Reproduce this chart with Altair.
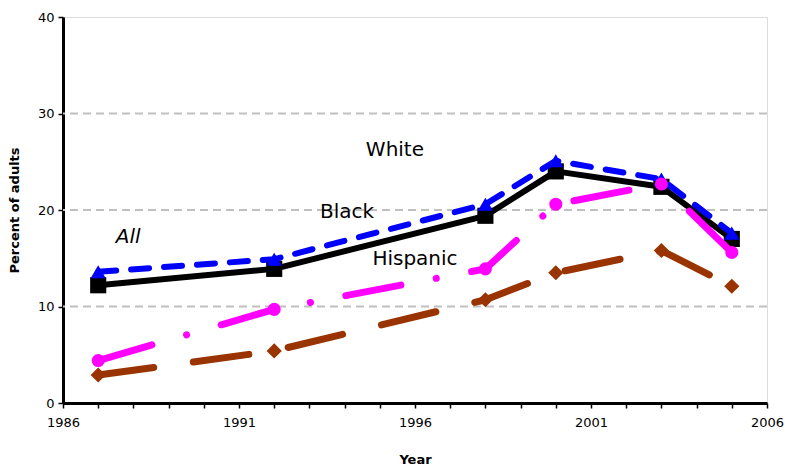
import altair as alt
import pandas as pd

years = [1987, 1992, 1998, 2000, 2003, 2005]
all_vals = [12.2, 13.9, 19.4, 24.0, 22.4, 17.0]
white_vals = [13.6, 14.9, 20.6, 25.1, 23.2, 17.6]
hispanic_vals = [4.4, 9.7, 13.9, 20.6, 22.7, 15.6]
black_vals = [2.9, 5.4, 10.7, 13.5, 15.8, 12.1]

label_text = ["All", "Black", "White", "Hispanic"]
label_x = [1987.85, 1994.07, 1995.43, 1996.0]
label_y = [17.2, 19.8, 26.2, 14.9]
label_style = ["italic", "normal", "normal", "normal"]

FONT = "DejaVu Sans"

series = [
    ("All", all_vals, "#000000", None, "square", 260, 6),
    ("White", white_vals, "#0000FF", [18, 15], "triangle-up", 230, 6),
    ("Hispanic", hispanic_vals, "#FF00FF", [56, 36, 0.1, 36], "circle", 170, 7),
    ("Black", black_vals, "#993300", [56, 40], "diamond", 230, 7),
]

xscale = alt.Scale(domain=[1986, 2006], nice=False, zero=False)
yscale = alt.Scale(domain=[0, 40], nice=False)

xaxis = alt.Axis(
    title="Year", values=list(range(1986, 2007)), format="d",
    labelExpr="(datum.value - 1986) % 5 == 0 ? datum.label : ''",
    labelOverlap=False, labelSeparation=0, labelFlush=False,
    grid=False, tickSize=5, tickColor="black", domainColor="black",
    domainWidth=3, tickWidth=1.5, labelFont=FONT, labelFontSize=13,
    labelColor="black", labelPadding=8, titleFont=FONT, titleFontSize=13,
    titleFontWeight="bold", titleColor="black", titlePadding=24,
)
yaxis = alt.Axis(
    title="Percent of adults", values=[0, 10, 20, 30, 40],
    grid=False, tickSize=5, tickColor="black", domainColor="black",
    domainWidth=3, tickWidth=1.5, labelFont=FONT, labelFontSize=13,
    labelColor="black", labelPadding=4, labelFlush=False,
    titleFont=FONT, titleFontSize=13,
    titleFontWeight="bold", titleColor="black", titlePadding=16,
)

grid_df = pd.DataFrame({"v": [10, 20, 30]})
grid = alt.Chart(grid_df).mark_rule(color="#C0C0C0", strokeWidth=2, strokeDash=[8, 5]).encode(
    y=alt.Y("v:Q", scale=yscale, axis=yaxis)
)

layers = [grid]
for name, vals, color, dash, shape, size, sw in series:
    df = pd.DataFrame({"year": years, "value": vals})
    line_kwargs = dict(color=color, strokeWidth=sw, strokeCap="round", strokeJoin="round")
    if dash is not None:
        line_kwargs["strokeDash"] = dash
    line = alt.Chart(df).mark_line(**line_kwargs).encode(
        x=alt.X("year:Q", scale=xscale, axis=xaxis),
        y=alt.Y("value:Q", scale=yscale, axis=yaxis),
    )
    pts = alt.Chart(df).mark_point(shape=shape, size=size, filled=True, color=color, opacity=1).encode(
        x=alt.X("year:Q", scale=xscale, axis=xaxis),
        y=alt.Y("value:Q", scale=yscale, axis=yaxis),
    )
    layers += [line, pts]

lab_df = pd.DataFrame({"t": label_text, "x": label_x, "y": label_y, "s": label_style})
for style in ["italic", "normal"]:
    sub = lab_df[lab_df["s"] == style]
    layers.append(
        alt.Chart(sub).mark_text(font=FONT, fontSize=20, fontStyle=style, color="black", align="center").encode(
            x=alt.X("x:Q", scale=xscale, axis=xaxis), y=alt.Y("y:Q", scale=yscale, axis=yaxis), text="t:N"
        )
    )

chart = alt.layer(*layers).properties(
    width=704, height=386,
    autosize=alt.AutoSizeParams(type="none"),
    padding={"left": 63, "top": 17, "right": 18, "bottom": 65},
).configure_view(stroke="black", strokeWidth=2.5).configure_axis(
    labelOverlap=False
).configure(background="white")

chart.save("out.html", embed_options={"renderer": "svg", "actions": False})
